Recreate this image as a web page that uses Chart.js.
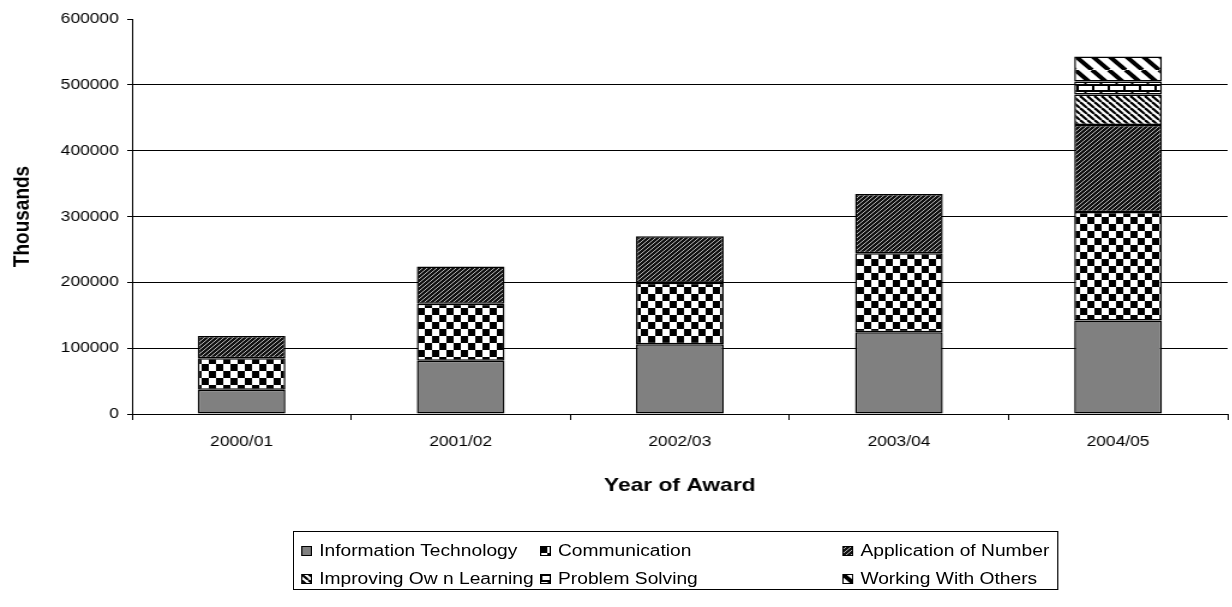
<!DOCTYPE html>
<html>
<head>
<meta charset="utf-8">
<script src="https://cdn.jsdelivr.net/npm/chart.js@4.4.0/dist/chart.umd.min.js"></script>
<style>
  html, body { margin: 0; padding: 0; background: #fff; overflow: hidden; }
  /* o original está esticado na horizontal; esticamos o conjunto todo */
  #area { position: relative; width: 1027px; height: 607px; transform: scaleX(1.2); transform-origin: 0 0; }
  #legenda {
    position: absolute; left: 244px; top: 531px; width: 638px; height: 59px;
    border: 1px solid #000; box-sizing: border-box;
    font-family: 'Liberation Sans', Arial, sans-serif; font-size: 16px; color: #000;
  }
  .item { position: absolute; display: flex; align-items: center; white-space: nowrap; height: 20px; }
  .item canvas { margin-right: 6px; }
</style>
</head>
<body>
<div id="area">
  <canvas id="grafico" width="1027" height="607"></canvas>
  <div id="legenda"></div>
</div>
<script>
// Dados
const categorias = ['2000/01', '2001/02', '2002/03', '2003/04', '2004/05'];
const infoTecnologia = [37000, 81000, 106000, 124000, 142000];
const comunicacao = [47600, 86500, 93500, 120000, 165000];
const aplicacaoNumero = [34000, 56500, 70500, 90000, 132000];
const aprendizagem = [null, null, null, null, 46500];
const resolucaoProblemas = [null, null, null, null, 19500];
const trabalhoEquipe = [null, null, null, null, 38000];
const nomesSeries = [
  'Information Technology', 'Communication', 'Application of Number',
  'Improving Ow n Learning', 'Problem Solving', 'Working With Others'
];
const ticksY = [0, 100000, 200000, 300000, 400000, 500000, 600000];

const fonte = "'Liberation Sans', Arial, sans-serif";
const ctxPrincipal = document.getElementById('grafico').getContext('2d');

// Cria um padrão de preenchimento a partir de um canvas pequeno
function criarPadrao(largura, altura, desenhar) {
  const c = document.createElement('canvas');
  c.width = largura;
  c.height = altura;
  const g = c.getContext('2d');
  desenhar(g, largura, altura);
  return ctxPrincipal.createPattern(c, 'repeat');
}

// Linhas diagonais que se repetem sem emendas
function diagonais(g, t, cor, espessura, barra) {
  g.strokeStyle = cor;
  g.lineWidth = espessura;
  for (const d of [-t, 0, t]) {
    g.beginPath();
    if (barra === '/') { g.moveTo(d, t); g.lineTo(d + t, 0); }
    else { g.moveTo(d, 0); g.lineTo(d + t, t); }
    g.stroke();
  }
}

const padroes = [
  '#808080',
  criarPadrao(12, 14, (g) => {
    g.fillStyle = '#fff'; g.fillRect(0, 0, 12, 14);
    g.fillStyle = '#000'; g.fillRect(0, 0, 6, 7); g.fillRect(6, 7, 6, 7);
  }),
  criarPadrao(4, 4, (g, t) => {
    g.fillStyle = '#111'; g.fillRect(0, 0, t, t);
    diagonais(g, t, '#b8b8b8', 1, '/');
  }),
  criarPadrao(6, 6, (g, t) => {
    g.fillStyle = '#fff'; g.fillRect(0, 0, t, t);
    diagonais(g, t, '#000', 2.2, '\\');
  }),
  criarPadrao(13, 12, (g) => {
    g.fillStyle = '#fff'; g.fillRect(0, 0, 13, 12);
    g.fillStyle = '#000';
    g.fillRect(0, 0, 13, 2); g.fillRect(0, 6, 13, 2);
    g.fillRect(0, 0, 2, 6); g.fillRect(6.5, 6, 2, 6);
  }),
  criarPadrao(14, 14, (g, t) => {
    g.fillStyle = '#fff'; g.fillRect(0, 0, t, t);
    diagonais(g, t, '#000', 4, '\\');
  })
];

const valores = [infoTecnologia, comunicacao, aplicacaoNumero, aprendizagem, resolucaoProblemas, trabalhoEquipe];

const datasets = nomesSeries.map((nome, i) => ({
  label: nome,
  data: valores[i],
  backgroundColor: padroes[i],
  borderColor: '#000',
  borderWidth: 1.5,
  borderSkipped: false,
  barPercentage: 0.4,
  categoryPercentage: 1
}));

new Chart(ctxPrincipal, {
  type: 'bar',
  data: { labels: categorias, datasets: datasets },
  options: {
    responsive: false,
    animation: false,
    layout: { padding: { left: 5, top: 19, right: 4, bottom: 110 } },
    plugins: { legend: { display: false }, tooltip: { enabled: false } },
    scales: {
      x: {
        stacked: true,
        afterFit: (escala) => { escala.height = 83; },
        grid: { drawOnChartArea: false, offset: true, tickLength: 6, color: '#000', tickColor: '#000' },
        border: { color: '#000', width: 1 },
        ticks: { color: '#000', font: { family: fonte, size: 14.5 }, padding: 13, maxRotation: 0 },
        title: {
          display: true, text: 'Year of Award', color: '#000',
          font: { family: fonte, size: 19, weight: 'bold' }, padding: { top: 0, bottom: 0 }
        }
      },
      y: {
        stacked: true,
        min: 0,
        max: 600000,
        afterFit: (escala) => { escala.width = 105; },
        afterBuildTicks: (escala) => { escala.ticks = ticksY.map(v => ({ value: v })); },
        grid: {
          color: (c) => (c.tick && c.tick.value === 600000) ? 'rgba(0,0,0,0)' : '#000',
          tickColor: '#000', tickLength: 4, lineWidth: 1
        },
        border: { color: '#000', width: 1 },
        ticks: {
          color: '#000', font: { family: fonte, size: 14.5 }, padding: 7,
          callback: (v) => String(v)
        },
        title: {
          display: true, text: 'Thousands', color: '#000',
          font: { family: fonte, size: 19, weight: 'bold' }, padding: { top: 2, bottom: 0 }
        }
      }
    }
  }
});

// Legenda em duas linhas e três colunas, como no original
const legenda = document.getElementById('legenda');
const colunas = [6, 205, 457];
const linhas = [9, 37];
nomesSeries.forEach((nome, i) => {
  const item = document.createElement('div');
  item.className = 'item';
  item.style.left = colunas[i % 3] + 'px';
  item.style.top = linhas[Math.floor(i / 3)] + 'px';
  const amostra = document.createElement('canvas');
  amostra.width = 9;
  amostra.height = 10;
  const g = amostra.getContext('2d');
  g.fillStyle = padroes[i];
  g.fillRect(0, 0, 9, 10);
  g.strokeStyle = '#000';
  g.lineWidth = 1;
  g.strokeRect(0.5, 0.5, 8, 9);
  item.appendChild(amostra);
  item.appendChild(document.createTextNode(nome));
  legenda.appendChild(item);
});
</script>
</body>
</html>
